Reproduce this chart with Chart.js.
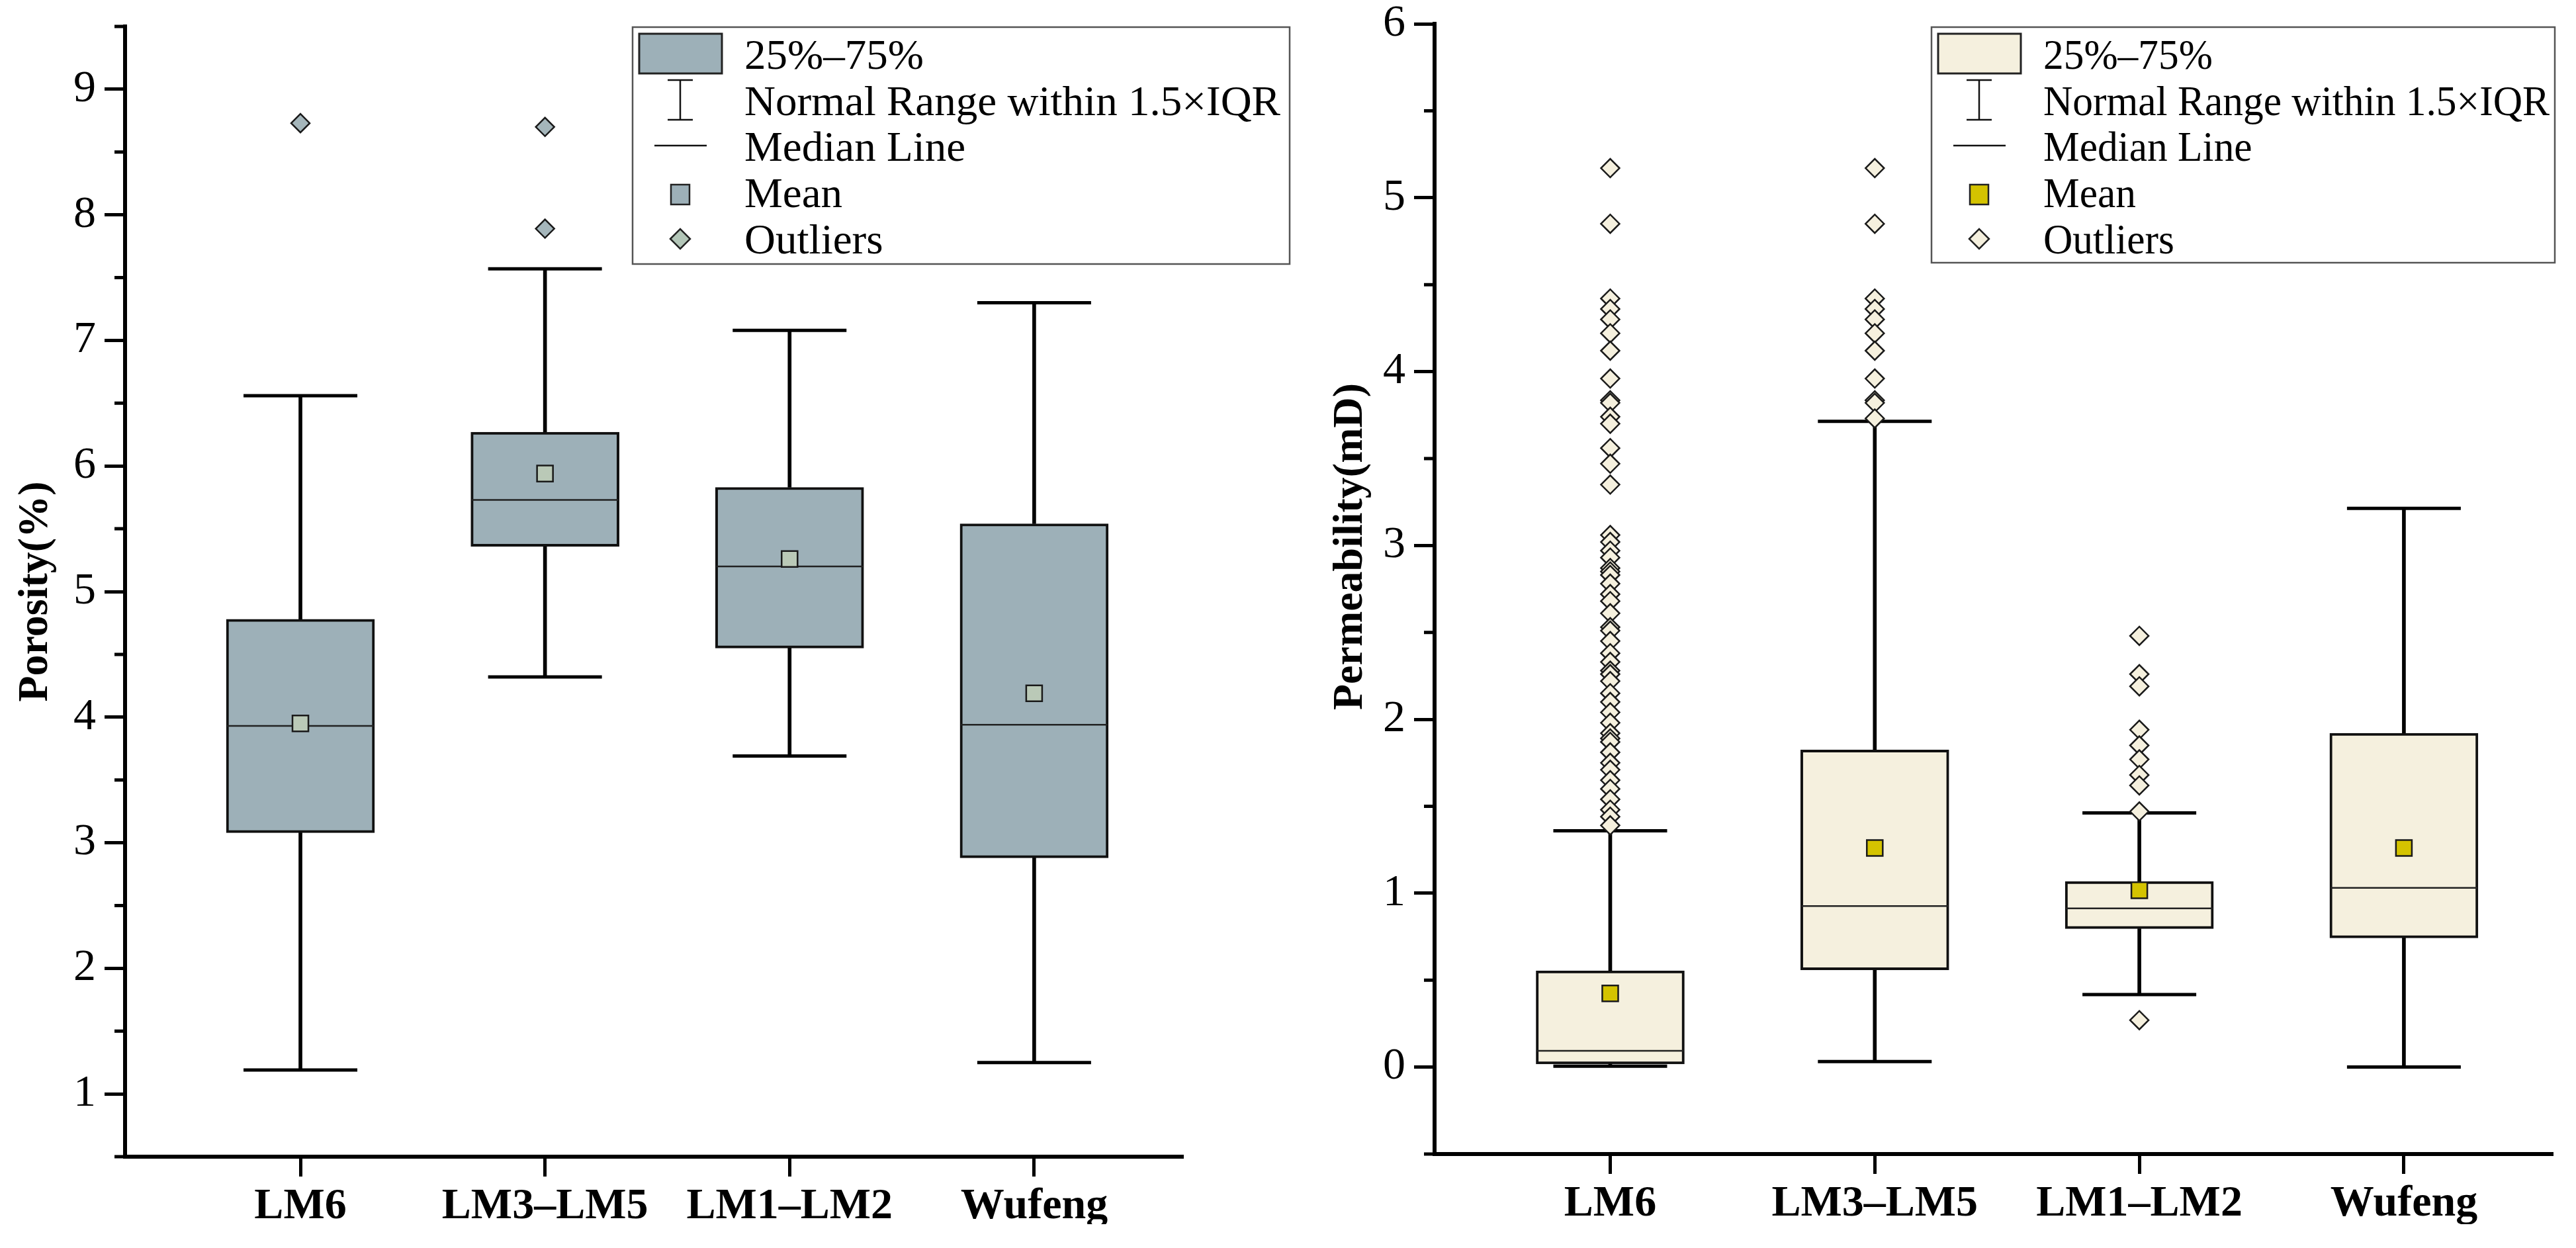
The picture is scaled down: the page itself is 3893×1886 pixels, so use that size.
<!DOCTYPE html>
<html lang="en">

<head>
    <meta charset="UTF-8">
    <title>Porosity and permeability by zone</title>
    <script src="https://cdn.jsdelivr.net/npm/chart.js@4.4.1/dist/chart.umd.min.js"></script>
    <style>
        body { margin: 0; background: #fff; }
        #wrap { position: relative; width: 3893px; height: 1850px; overflow: hidden; }
        #left { position: absolute; left: 0; top: 0; }
        #right { position: absolute; left: 1952px; top: 0; }
    </style>
</head>

<body>
    <div id="wrap">
        <canvas id="left" width="1952" height="1886"></canvas>
        <canvas id="right" width="1941" height="1886"></canvas>
    </div>
</body>
<script>
    var zones = ['LM6', 'LM3–LM5', 'LM1–LM2', 'Wufeng'];
    var legendLabels = ['25%–75%', 'Normal Range within 1.5×IQR', 'Median Line', 'Mean', 'Outliers'];

    // porosity (%)
    var poroTicks = [1, 2, 3, 4, 5, 6, 7, 8, 9];
    var poroQ1 = [3.08, 5.36, 4.55, 2.88];
    var poroQ3 = [4.78, 6.27, 5.83, 5.54];
    var poroMedian = [3.93, 5.73, 5.20, 3.94];
    var poroMean = [3.95, 5.94, 5.26, 4.19];
    var poroMin = [1.19, 4.32, 3.69, 1.25];
    var poroMax = [6.56, 7.57, 7.08, 7.30];
    var poroOutliers = [[8.73], [8.70, 7.89], [], []];

    // permeability (mD)
    var permTicks = [0, 1, 2, 3, 4, 5, 6];
    var permQ1 = [0.018, 0.559, 0.796, 0.743];
    var permQ3 = [0.554, 1.824, 1.068, 1.920];
    var permMedian = [0.094, 0.926, 0.913, 1.031];
    var permMean = [0.424, 1.260, 1.017, 1.260];
    var permMin = [0.005, 0.032, 0.417, 0.0];
    var permMax = [1.359, 3.714, 1.462, 3.213];
    var permOutliers = [
        [5.17, 4.85, 4.42, 4.36, 4.30, 4.22, 4.12, 3.96, 3.835, 3.82, 3.74, 3.70, 3.56, 3.47, 3.35,
            3.06, 3.02, 2.97, 2.93, 2.87, 2.85, 2.83, 2.78, 2.72, 2.68, 2.61, 2.53, 2.51, 2.45, 2.38, 2.33,
            2.28, 2.26, 2.22, 2.15, 2.10, 2.04, 1.98, 1.92, 1.89, 1.87, 1.81, 1.75, 1.71, 1.65, 1.60, 1.54,
            1.48, 1.44, 1.39],
        [5.17, 4.85, 4.42, 4.36, 4.30, 4.22, 4.12, 3.96, 3.835, 3.82, 3.73],
        [2.48, 2.26, 2.19, 1.94, 1.85, 1.77, 1.68, 1.62, 1.47, 0.27],
        []
    ];

    Chart.defaults.font.family = '"Liberation Serif", "Times New Roman", serif';
    Chart.defaults.color = '#000';

    function pts(arr) {
        return arr.map(function (v, i) { return { x: i + 1, y: v }; });
    }

    function spans(lo, hi) {
        return lo.map(function (v, i) { return { x: i + 1, y: [v, hi[i]] }; });
    }

    function drawLegend(ctx, o) {
        var x = o.x, y = o.y;
        ctx.save();
        ctx.fillStyle = '#fff';
        ctx.fillRect(x, y, o.w, o.h);
        ctx.strokeStyle = '#555';
        ctx.lineWidth = 2.5;
        ctx.strokeRect(x, y, o.w, o.h);

        // box symbol
        ctx.fillStyle = o.fill;
        ctx.fillRect(x + 10, y + 10, 125, 60);
        ctx.strokeStyle = '#222';
        ctx.lineWidth = 3;
        ctx.strokeRect(x + 10, y + 10, 125, 60);

        // whisker symbol
        ctx.strokeStyle = '#111';
        ctx.lineWidth = 2.5;
        ctx.beginPath();
        ctx.moveTo(x + 72, y + 80); ctx.lineTo(x + 72, y + 140);
        ctx.moveTo(x + 53, y + 80); ctx.lineTo(x + 91, y + 80);
        ctx.moveTo(x + 53, y + 140); ctx.lineTo(x + 91, y + 140);
        // median symbol
        ctx.moveTo(x + 33, y + 179); ctx.lineTo(x + 112, y + 179);
        ctx.stroke();

        // mean symbol
        ctx.fillStyle = o.mean;
        ctx.fillRect(x + 58, y + 238, 28, 30);
        ctx.strokeStyle = '#222';
        ctx.strokeRect(x + 58, y + 238, 28, 30);

        // outlier symbol
        ctx.fillStyle = o.out;
        ctx.beginPath();
        ctx.moveTo(x + 57, y + 320); ctx.lineTo(x + 72, y + 305);
        ctx.lineTo(x + 87, y + 320); ctx.lineTo(x + 72, y + 335);
        ctx.closePath();
        ctx.fill();
        ctx.stroke();

        ctx.fillStyle = '#000';
        ctx.font = '64px "Liberation Serif", serif';
        ctx.textBaseline = 'alphabetic';
        var k = o.textW / ctx.measureText(legendLabels[1]).width;
        var rows = [63, 133, 202, 272, 342];
        legendLabels.forEach(function (t, i) {
            ctx.save();
            ctx.translate(x + 169, y + rows[i]);
            ctx.scale(k, 1);
            ctx.fillText(t, 0, 0);
            ctx.restore();
        });
        ctx.restore();
    }

    var decorPlugin = {
        id: 'decor',
        afterDraw: function (chart, args, opts) {
            var ctx = chart.ctx;
            var ys = chart.scales.y;
            var left = chart.chartArea.left;
            // minor ticks halfway between the labelled ones
            ctx.save();
            ctx.strokeStyle = '#000';
            ctx.lineWidth = 5;
            ctx.beginPath();
            ys.ticks.forEach(function (t) {
                [t.value - 0.5, t.value + 0.5].forEach(function (v) {
                    if (v < ys.min - 1e-6 || v > ys.max + 1e-6) return;
                    var py = ys.getPixelForValue(v);
                    ctx.moveTo(left - 16, py);
                    ctx.lineTo(left, py);
                });
            });
            ctx.stroke();
            ctx.restore();
            drawLegend(ctx, opts);
        }
    };

    function boxChart(id, d) {
        var outPts = [];
        d.outliers.forEach(function (list, i) {
            list.forEach(function (v) { outPts.push({ x: i + 1, y: v }); });
        });

        return new Chart(document.getElementById(id), {
            type: 'bar',
            data: {
                datasets: [{
                    type: 'scatter',
                    data: outPts,
                    pointStyle: 'rectRot',
                    pointRadius: 14,
                    pointBackgroundColor: d.outFill,
                    pointBorderColor: '#1a1a1a',
                    pointBorderWidth: 2.5,
                    order: 0
                }, {
                    type: 'scatter',
                    data: pts(d.mean),
                    pointStyle: 'rect',
                    pointRadius: 17,
                    pointBackgroundColor: d.meanFill,
                    pointBorderColor: '#1a1a1a',
                    pointBorderWidth: 2.5,
                    order: 1
                }, {
                    type: 'scatter',
                    data: pts(d.median),
                    pointStyle: 'line',
                    pointRadius: 111,
                    pointBorderColor: '#222',
                    pointBorderWidth: 2.5,
                    order: 2
                }, {
                    type: 'bar',
                    data: spans(d.q1, d.q3),
                    backgroundColor: d.fill,
                    borderColor: '#111',
                    borderWidth: 4,
                    borderSkipped: false,
                    barThickness: 224,
                    grouped: false,
                    order: 3
                }, {
                    type: 'scatter',
                    data: pts(d.max).concat(pts(d.min)),
                    pointStyle: 'line',
                    pointRadius: 86,
                    pointBorderColor: '#000',
                    pointBorderWidth: 5,
                    order: 4
                }, {
                    type: 'bar',
                    data: spans(d.q3, d.max).concat(spans(d.min, d.q1)),
                    backgroundColor: '#000',
                    borderWidth: 0,
                    barThickness: 5,
                    grouped: false,
                    order: 5
                }]
            },
            options: {
                responsive: false,
                animation: false,
                events: [],
                layout: { padding: d.pad, autoPadding: false },
                plugins: {
                    legend: { display: false },
                    tooltip: { enabled: false },
                    decor: d.legend
                },
                scales: {
                    x: {
                        type: 'linear',
                        min: d.xMin,
                        max: d.xMax,
                        offset: false,
                        afterBuildTicks: function (s) {
                            s.ticks = zones.map(function (z, i) { return { value: i + 1 }; });
                        },
                        afterFit: function (s) {
                            s.height = d.xAxisH;
                            s.paddingLeft = 0;
                            s.paddingRight = 0;
                        },
                        grid: { offset: false, drawOnChartArea: false, drawTicks: true, tickLength: 30, tickWidth: 5, tickColor: '#000' },
                        border: { display: true, color: '#000', width: 6 },
                        ticks: {
                            autoSkip: false,
                            maxRotation: 0,
                            padding: 6,
                            font: { size: 66, weight: 'bold' },
                            callback: function (v, i) { return zones[i]; }
                        }
                    },
                    y: {
                        min: d.yMin,
                        max: d.yMax,
                        afterBuildTicks: function (s) {
                            s.ticks = d.ticks.map(function (v) { return { value: v }; });
                        },
                        afterFit: function (s) {
                            s.width = d.yAxisW;
                            s.paddingTop = 0;
                            s.paddingBottom = 0;
                        },
                        grid: { drawOnChartArea: false, drawTicks: true, tickLength: 31, tickWidth: 5, tickColor: '#000' },
                        border: { display: true, color: '#000', width: 6 },
                        ticks: { padding: 13, font: { size: 68 } },
                        title: {
                            display: true,
                            text: d.title,
                            font: { size: 64, weight: 'bold' },
                            padding: { top: d.titlePad, bottom: 0 }
                        }
                    }
                }
            },
            plugins: [decorPlugin]
        });
    }

    boxChart('left', {
        q1: poroQ1, q3: poroQ3, median: poroMedian, mean: poroMean,
        min: poroMin, max: poroMax, outliers: poroOutliers, ticks: poroTicks,
        yMin: 0.5, yMax: 9.5, xMin: 0.283, xMax: 4.609,
        title: 'Porosity(%)', titlePad: 16,
        fill: '#9db0b8', meanFill: '#bac9b7', outFill: '#a5b6bb',
        pad: { left: 0, right: 164, top: 40, bottom: 0 },
        yAxisW: 189, xAxisH: 138,
        legend: { x: 956, y: 41, w: 993, h: 358, textW: 810, fill: '#9db0b8', mean: '#9db0b8', out: '#b3c6b8' }
    });

    // the reference sets this title a little above the middle of the axis
    boxChart('right', {
        q1: permQ1, q3: permQ3, median: permMedian, mean: permMean,
        min: permMin, max: permMax, outliers: permOutliers, ticks: permTicks,
        yMin: -0.5, yMax: 6, xMin: 0.336, xMax: 4.563,
        title: '        Permeability(mD)', titlePad: 51,
        fill: '#f5f0de', meanFill: '#d4c300', outFill: '#f5f0de',
        pad: { left: 0, right: 35, top: 36, bottom: 0 },
        yAxisW: 216, xAxisH: 142,
        legend: { x: 967, y: 41, w: 942, h: 356, textW: 765, fill: '#f5f0de', mean: '#d4c300', out: '#f5f0de' }
    });
</script>

</html>
